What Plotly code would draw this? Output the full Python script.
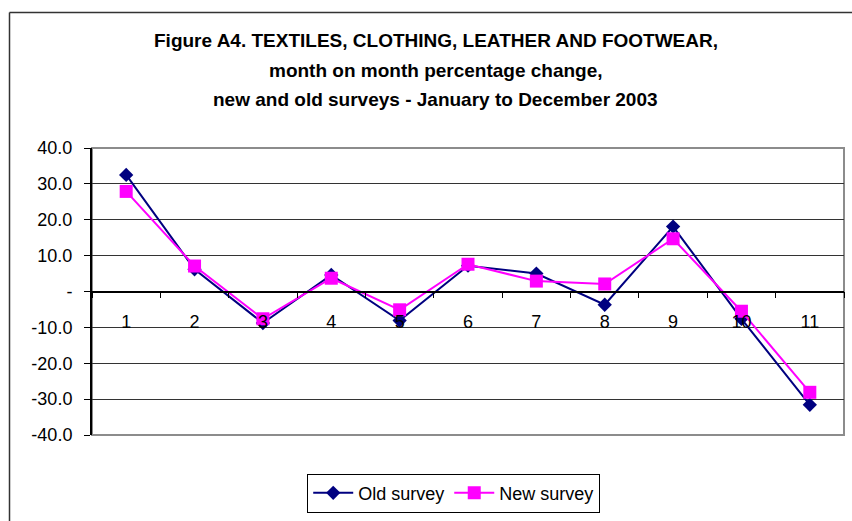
import plotly.graph_objects as go

# Month-on-month percentage change, textiles/clothing/leather/footwear, 2003
months = ["1", "2", "3", "4", "5", "6", "7", "8", "9", "10", "11"]
old_survey = [32.5, 6.2, -8.8, 4.6, -8.1, 7.2, 5.0, -3.7, 18.1, -7.6, -31.6]
new_survey = [27.9, 7.1, -7.6, 3.7, -5.1, 7.6, 2.9, 2.1, 14.7, -5.5, -28.1]

y_ticks = [40, 30, 20, 10, 0, -10, -20, -30, -40]
y_tick_text = ["40.0", "30.0", "20.0", "10.0", "-", "-10.0", "-20.0", "-30.0", "-40.0"]

title_lines = [
    "Figure A4. TEXTILES, CLOTHING, LEATHER AND FOOTWEAR,",
    "month on month percentage change,",
    "new and old surveys - January to December 2003",
]

FONT = "Liberation Sans Narrow, Arial Narrow, Liberation Sans, Arial, sans-serif"

fig = go.Figure()
fig.add_trace(go.Scatter(
    x=months, y=old_survey, name="Old survey", mode="lines+markers",
    line=dict(color="#000080", width=2),
    marker=dict(symbol="diamond", size=11, color="#000080"),
))
fig.add_trace(go.Scatter(
    x=months, y=new_survey, name="New survey", mode="lines+markers",
    line=dict(color="#FF00FF", width=2),
    marker=dict(symbol="square", size=13, color="#FF00FF"),
))

# Stacked title lines
for yy, txt in zip([1.376, 1.2685, 1.1685], title_lines):
    fig.add_annotation(
        x=0.4574, y=yy, xref="paper", yref="paper", text="<b>%s</b>" % txt,
        showarrow=False, xanchor="center", yanchor="middle",
        font=dict(family=FONT, size=19, color="black"),
    )

# Plot-area frame and outer chart border
fig.add_shape(type="rect", xref="paper", yref="paper", x0=0, x1=1, y0=0, y1=1,
              line=dict(color="#8c8c8c", width=2), layer="below")
fig.add_shape(type="line", xref="paper", yref="paper", x0=-0.1097, x1=-0.1097,
              y0=1.4724, y1=-0.35, line=dict(color="#333333", width=1.5))
fig.add_shape(type="line", xref="paper", yref="paper", x0=-0.1097, x1=1.05,
              y0=1.4724, y1=1.4724, line=dict(color="#333333", width=1.5))

fig.update_layout(
    width=852, height=521,
    margin=dict(l=92, r=8, t=148, b=83),
    paper_bgcolor="white", plot_bgcolor="white",
    font=dict(family=FONT, size=18, color="black"),
    showlegend=True,
    legend=dict(
        orientation="h", x=0.481, y=-0.1345, xanchor="center", yanchor="top",
        bordercolor="black", borderwidth=1, bgcolor="white",
        font=dict(family=FONT, size=18, color="black"),
        itemwidth=40, tracegroupgap=0,
    ),
    xaxis=dict(
        type="category", anchor="free", position=0.5,
        showline=True, linecolor="black", linewidth=1.5,
        ticks="outside", tickson="boundaries", ticklen=6, tickcolor="black",
        showgrid=False, zeroline=False,
        ticklabelstandoff=14,
        tickfont=dict(family=FONT, size=18, color="black"),
        range=[-0.5, 10.5],
    ),
    yaxis=dict(
        range=[-40, 40], tickvals=y_ticks, ticktext=y_tick_text,
        showline=True, linecolor="black", linewidth=2,
        ticks="outside", ticklen=6, tickcolor="black",
        showgrid=True, gridcolor="#333333", gridwidth=1,
        zeroline=False, ticklabelstandoff=8,
        tickfont=dict(family=FONT, size=18, color="black"),
    ),
)

fig.write_html("out.html")
